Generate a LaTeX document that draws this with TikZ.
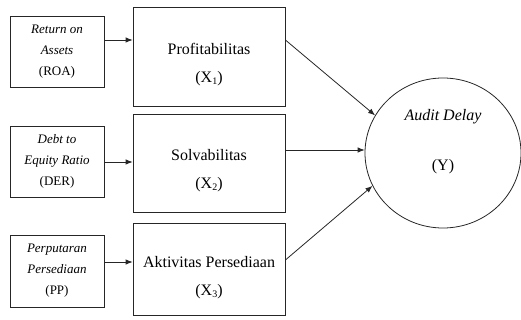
\documentclass[tikz,border=0pt]{standalone}
\usepackage{fontspec}
\setmainfont{Liberation Serif}
\usetikzlibrary{arrows.meta,shapes.geometric}
\newcommand{\subx}[1]{\raisebox{-0.25ex}{\fontsize{10}{10}\selectfont #1}}
\tikzset{
  ln/.style={line width=0.8pt, draw=black!85},
  smallbox/.style={ln, rectangle, minimum width=94pt, minimum height=71pt, inner sep=0pt, align=center, font=\fontsize{13}{21}\selectfont},
  bigbox/.style={ln, rectangle, minimum width=152pt, inner sep=0pt},
  bigtext/.style={align=center, inner sep=0pt, font=\fontsize{16}{28}\selectfont},
  arr/.style={ln, -{Latex[length=7pt,width=5.5pt]}}
}
\begin{document}
\begin{tikzpicture}[x=1pt,y=-1pt]
\useasboundingbox (0,0) rectangle (521,320);
% small boxes
\node[smallbox] (s1) at (57,51.5) {\textit{Return on}\\\textit{Assets}\\(ROA)};
\node[smallbox] (s2) at (57,161.5) {\textit{Debt to}\\\textit{Equity Ratio}\\(DER)};
\node[smallbox, minimum height=72pt] (s3) at (57,271) {\textit{Perputaran}\\\textit{Persediaan}\\(PP)};
% big boxes
\node[bigbox, minimum height=99pt] (b1) at (209,56.5) {};
\node[bigbox, minimum height=98pt] (b2) at (209,163) {};
\node[bigbox, minimum height=92pt] (b3) at (209,269) {};
\node[bigtext] (t1) at ([yshift=-8pt]b1.center) {Profitabilitas\\(X\subx{1})};
\node[bigtext] (t2) at ([yshift=-8pt]b2.center) {Solvabilitas\\(X\subx{2})};
\node[bigtext] (t3) at ([yshift=-9pt]b3.center) {Aktivitas Persediaan\\(X\subx{3})};
% ellipse
\node[ln, ellipse, minimum width=156pt, minimum height=150pt, inner sep=0pt] (e) at (443,153) {};
\node[font=\fontsize{16}{16}\selectfont\itshape, inner sep=0pt] (ey1) at ([yshift=36pt]e.center) {Audit Delay};
\node[font=\fontsize{16}{16}\selectfont, inner sep=0pt] (ey2) at ([yshift=-14pt]e.center) {(Y)};
% small arrows
\draw[arr] ([yshift=11.5pt]s1.east) -- ([yshift=11.5pt]s1.east -| b1.west);
\draw[arr] ([yshift=-0.5pt]s2.east) -- ([yshift=-0.5pt]s2.east -| b2.west);
\draw[arr] ([yshift=9pt]s3.east) -- ([yshift=9pt]s3.east -| b3.west);
% big arrows
\draw[arr] ([yshift=16.5pt]b1.east) -- (e.151);
\draw[arr] ([yshift=13pt]b2.east) -- ([yshift=13pt]b2.east -| e.west);
\draw[arr] ([yshift=9pt]b3.east) -- (e.205);
\end{tikzpicture}
\end{document}
